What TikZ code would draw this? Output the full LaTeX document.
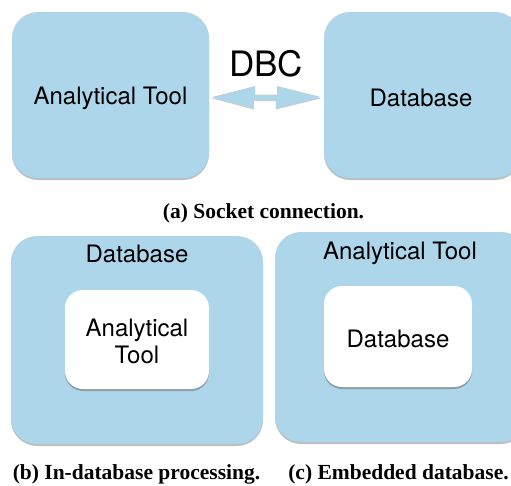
\documentclass[tikz,border=0pt]{standalone}
\usepackage{fontspec}
\setmainfont{TeX Gyre Heros}
\newfontfamily\capfont{Liberation Serif}
\usetikzlibrary{shadows,calc}
\definecolor{boxblue}{RGB}{173,214,234}
\tikzset{
  bluebox/.style={fill=boxblue, rounded corners=26pt, inner sep=0pt,
    drop shadow={shadow xshift=0pt, shadow yshift=-2pt, opacity=0.25, fill=black}},
  whitebox/.style={fill=white, rounded corners=18pt, inner sep=0pt, align=center,
    drop shadow={shadow xshift=0pt, shadow yshift=-2pt, opacity=0.25, fill=black}},
  lbl/.style={font=\fontsize{24}{28}\selectfont, align=center},
  captext/.style={font=\capfont\bfseries\fontsize{21.5}{25}\selectfont}
}
\begin{document}
\begin{tikzpicture}[x=1pt,y=-1pt]
\useasboundingbox (0,0) rectangle (511,485);
\clip (0,0) rectangle (511,485);
% (a)
\node[bluebox, minimum width=197pt, minimum height=166pt] (tool) at (110.5,95) {};
\node[lbl] (tooll) at (110.5,98) {Analytical Tool};
\node[bluebox, minimum width=197pt, minimum height=166pt] (db) at (422.5,95) {};
\node[lbl] (dbl) at (421,98) {Database};
\coordinate (lt) at ($(tool.east)+(3,2)$);
\coordinate (rt) at ($(db.west)+(-3,2)$);
\fill[boxblue, drop shadow={shadow xshift=0pt, shadow yshift=-1.5pt, opacity=0.2, fill=black}]
  (lt) -- ++(43,-11) -- ++(0,8.5) -- ++(22,0) -- ++(0,-8.5) -- (rt)
  -- ++(-45,11) -- ++(0,-8.5) -- ++(-22,0) -- ++(0,8.5) -- cycle;
\node[font=\fontsize{35}{40}\selectfont] (dbc) at (266,64) {DBC};
\node[captext] (capa) at (263.5,213) {(a) Socket connection.};
% (b)
\node[bluebox, minimum width=252pt, minimum height=208pt] (bout) at (137,340) {};
\node[lbl] (boutl) at (137,254) {Database};
\node[whitebox, minimum width=144pt, minimum height=99pt] (bin) at (137,339.5) {};
\node[lbl, font=\fontsize{24}{27}\selectfont] (binl) at (137,341) {Analytical\\Tool};
\node[captext] (capb) at (136.5,474) {(b) In-database processing.};
% (c)
\node[bluebox, minimum width=252pt, minimum height=210pt] (cout) at (401,337) {};
\node[lbl] (coutl) at (400,253) {Analytical Tool};
\node[whitebox, minimum width=148pt, minimum height=101pt] (cin) at (398,336.5) {};
\node[lbl] (cinl) at (398,339) {Database};
\node[captext] (capc) at (398.5,474) {(c) Embedded database.};
\end{tikzpicture}
\end{document}
